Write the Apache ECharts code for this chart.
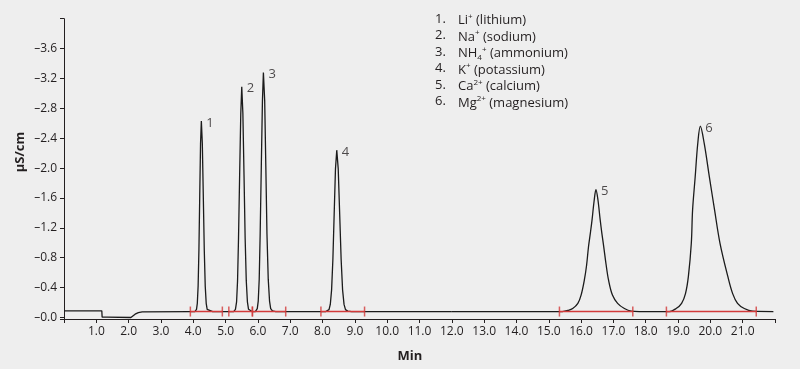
<!DOCTYPE html>
<html>
<head>
<meta charset="utf-8">
<script src="https://cdn.jsdelivr.net/npm/echarts@6/dist/echarts.min.js"></script>
<style>
html,body{margin:0;padding:0;background:#eeeeee;}
#chart{width:800px;height:369px;}
</style>
</head>
<body>
<div id="chart"></div>
<script>
// ---- data (time in min, signal in µS/cm) ----
const traceStart = [[0,-0.09],[1.17,-0.09],[1.18,-0.005],[1.33,-0.005],[1.36,-0.02],[1.39,0.0],[2.07,0.0],[2.2,-0.045],[2.3,-0.065],[2.42,-0.075],[3.9,-0.08]];
const peak1 = [[4.05,-0.08],[4.10,-0.11],[4.125,-0.19],[4.15,-0.42],[4.175,-0.91],[4.20,-1.63],[4.225,-2.33],[4.25,-2.63],[4.28,-2.33],[4.31,-1.63],[4.34,-0.91],[4.37,-0.42],[4.40,-0.19],[4.43,-0.11],[4.48,-0.085],[4.6,-0.08]];
const peak2 = [[5.25,-0.08],[5.305,-0.11],[5.34,-0.21],[5.37,-0.49],[5.40,-1.06],[5.435,-1.91],[5.47,-2.73],[5.50,-3.09],[5.535,-2.73],[5.57,-1.91],[5.605,-1.06],[5.64,-0.49],[5.675,-0.21],[5.71,-0.11],[5.76,-0.085],[5.82,-0.08]];
const peak3 = [[5.92,-0.08],[5.98,-0.12],[6.01,-0.22],[6.04,-0.51],[6.07,-1.12],[6.105,-2.02],[6.14,-2.90],[6.17,-3.28],[6.21,-2.90],[6.245,-2.02],[6.28,-1.12],[6.32,-0.51],[6.36,-0.22],[6.395,-0.12],[6.45,-0.09],[6.55,-0.08]];
const peak4 = [[8.1,-0.08],[8.20,-0.105],[8.24,-0.175],[8.28,-0.37],[8.32,-0.78],[8.36,-1.39],[8.40,-1.99],[8.44,-2.24],[8.485,-1.99],[8.53,-1.39],[8.575,-0.78],[8.62,-0.37],[8.665,-0.175],[8.71,-0.105],[8.78,-0.085],[8.9,-0.08],[12.0,-0.078]];
const peak5 = [[12.0,-0.078],[15.42,-0.08],[15.60,-0.095],[15.74,-0.12],[15.90,-0.19],[16.00,-0.30],[16.10,-0.50],[16.17,-0.70],[16.23,-0.95],[16.29,-1.14],[16.34,-1.31],[16.40,-1.55],[16.46,-1.71],[16.52,-1.58],[16.59,-1.31],[16.645,-1.12],[16.70,-0.95],[16.77,-0.72],[16.85,-0.50],[16.97,-0.30],[17.13,-0.19],[17.34,-0.12],[17.55,-0.085],[17.8,-0.08]];
const peak6 = [[18.73,-0.08],[18.94,-0.12],[19.11,-0.19],[19.23,-0.32],[19.32,-0.55],[19.41,-0.99],[19.45,-1.44],[19.53,-1.88],[19.61,-2.33],[19.69,-2.56],[19.81,-2.33],[19.97,-1.88],[20.13,-1.44],[20.30,-0.99],[20.54,-0.55],[20.69,-0.32],[20.84,-0.19],[21.05,-0.12],[21.31,-0.085],[21.95,-0.08]];
const integrationWindows = [[3.91,4.90],[5.10,5.83],[5.83,6.86],[7.95,9.30],[15.33,17.60],[18.64,21.42]];
const integrationLevel = -0.08;
const peakNumbers = ['1','2','3','4','5','6'];
const peakTimes = [4.25,5.50,6.17,8.44,16.46,19.69];
const peakHeights = [-2.63,-3.09,-3.28,-2.24,-1.71,-2.56];
const legendNums = ['1.','2.','3.','4.','5.','6.'];
const legendIons = ['{t|Li}{sup|+}','{t|Na}{sup|+}','{t|NH}{sub|4}{sup|+}','{t|K}{sup|+}','{t|Ca}{sup|2+}','{t|Mg}{sup|2+}'];
const legendNames = ['(lithium)','(sodium)','(ammonium)','(potassium)','(calcium)','(magnesium)'];
const xTitle = 'Min';
const yTitle = 'µS/cm';

const FONT = "'Open Sans','Noto Sans',sans-serif";
const INK = '#231f20';
const RED = '#d23a3a';

const chart = echarts.init(document.getElementById('chart'), null, {renderer:'canvas'});

const fastTrace = [].concat(traceStart, peak1, peak2, peak3, peak4);
const slowTrace = [].concat(peak5, peak6);

const series = [
  {type:'line', data:fastTrace, showSymbol:false, symbol:'none', smooth:false,
   lineStyle:{color:'#1b1b1b', width:1.3}, z:2, silent:true},
  {type:'line', data:slowTrace, showSymbol:false, symbol:'none', smooth:0.35,
   lineStyle:{color:'#1b1b1b', width:1.3}, z:2, silent:true}
];
integrationWindows.forEach(w => {
  series.push({type:'line', data:[[w[0],integrationLevel],[w[1],integrationLevel]], symbol:'none', showSymbol:false,
    lineStyle:{color:RED, width:1.6, opacity:1}, z:6, silent:true});
});
const tickPts = [];
integrationWindows.forEach(w => { tickPts.push([w[0],integrationLevel]); tickPts.push([w[1],integrationLevel]); });
series.push({type:'scatter', data:tickPts, symbol:'rect', symbolSize:[1.5,10],
  itemStyle:{color:RED}, z:7, silent:true});
series.push({type:'scatter', data:peakTimes.map((t,i)=>[t,peakHeights[i],peakNumbers[i]]),
  symbolSize:0, z:8, silent:true,
  label:{show:true, position:'right', distance:5, offset:[0,2], formatter:p=>p.data[2],
    fontFamily:FONT, fontSize:13, color:INK}});

const graphic = [];
legendNums.forEach((n,i)=>{
  const y = 20.7 + i*16.5;
  graphic.push({type:'text', left:435, top:y-8, style:{text:n, font:'13px '+FONT, fill:INK}});
  graphic.push({type:'text', left:458, top:y-8, style:{
    text: legendIons[i] + '{t| ' + legendNames[i] + '}',
    rich:{
      t:{fontFamily:FONT, fontSize:13, lineHeight:16, color:INK, verticalAlign:'middle'},
      sup:{fontFamily:FONT, fontSize:8, lineHeight:16, color:INK, verticalAlign:'top'},
      sub:{fontFamily:FONT, fontSize:8, lineHeight:16, color:INK, verticalAlign:'bottom'}
    }, fill:INK}});
});
graphic.push({type:'text', x:410, y:356, style:{text:xTitle, font:'bold 13px '+FONT, fill:INK, textAlign:'center', textVerticalAlign:'middle'}});
graphic.push({type:'text', x:20, y:152, rotation:Math.PI/2, style:{text:yTitle, font:'bold 13px '+FONT, fill:INK, textAlign:'center', textVerticalAlign:'middle'}});

const option = {
  backgroundColor:'#eeeeee',
  animation:false,
  grid:{left:64, right:25, top:18.7, bottom:50},
  xAxis:{type:'value', min:0, max:22, interval:1,
    axisLine:{onZero:false, lineStyle:{color:INK, width:1}},
    axisTick:{show:true, length:4, lineStyle:{color:INK}},
    axisLabel:{color:INK, fontFamily:FONT, fontSize:12, margin:7,
      formatter:v => (v<=0 || v>=22) ? '' : v.toFixed(1)},
    splitLine:{show:false}},
  yAxis:{type:'value', inverse:true, min:-4, max:0.02, interval:0.4,
    axisLine:{show:true, onZero:false, lineStyle:{color:INK, width:1}},
    axisTick:{show:true, length:4, lineStyle:{color:INK}},
    axisLabel:{color:INK, fontFamily:FONT, fontSize:12, margin:7,
      formatter:v => {
        if (v < -3.99 || v > 0.001) return '';
        const k = Math.round(v/0.4);
        if (Math.abs(v - k*0.4) > 1e-6) return '';
        return '\u2013' + Math.abs(v).toFixed(1);
      }},
    splitLine:{show:false}},
  series:series,
  graphic:graphic
};
chart.setOption(option);
</script>
</body>
</html>
